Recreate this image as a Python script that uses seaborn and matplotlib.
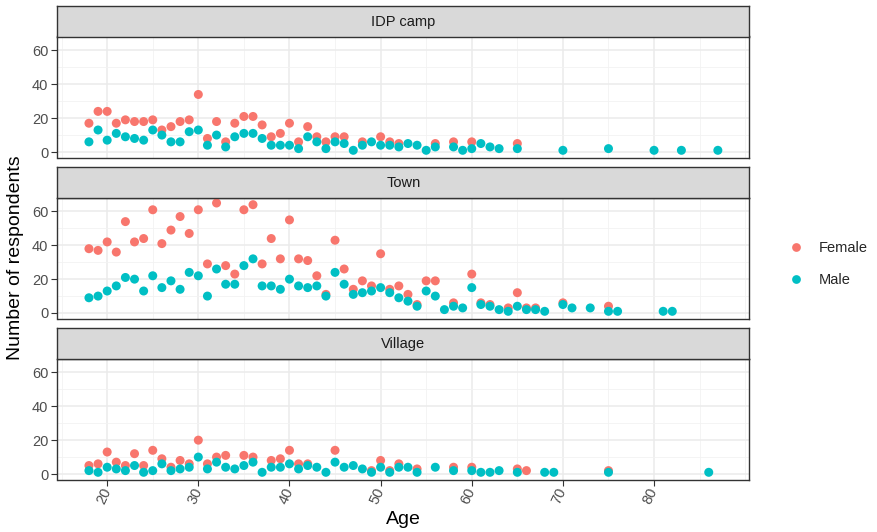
import numpy as np
import pandas as pd
import matplotlib
matplotlib.use("Agg")
import matplotlib.pyplot as plt
from matplotlib.lines import Line2D
import seaborn as sns

sns.set_theme(style="white")
plt.rcParams["font.family"] = ["Liberation Sans", "DejaVu Sans"]

# Respondents by age, sex and place of residence
idp_female_age = [18, 19, 20, 21, 22, 23, 24, 25, 26, 27, 28, 29, 30, 31, 32, 33, 34, 35, 36, 37,
                  38, 39, 40, 41, 42, 43, 44, 45, 46, 48, 50, 51, 52, 56, 58, 60, 65]
idp_female_n = [17, 24, 24, 17, 19, 18, 18, 19, 13, 15, 18, 19, 34, 8, 18, 6, 17, 21, 21, 16,
                9, 11, 17, 6, 15, 9, 6, 9, 9, 6, 9, 6, 5, 5, 6, 6, 5]
idp_male_age = [18, 19, 20, 21, 22, 23, 24, 25, 26, 27, 28, 29, 30, 31, 32, 33, 34, 35, 36, 37,
                38, 39, 40, 41, 42, 43, 44, 45, 46, 47, 48, 49, 50, 51, 52, 53, 54, 55, 56, 58,
                59, 60, 61, 62, 63, 65, 70, 75, 80, 83, 87]
idp_male_n = [6, 13, 7, 11, 9, 8, 7, 13, 10, 6, 6, 12, 13, 4, 10, 3, 9, 11, 11, 8,
              4, 4, 4, 2, 9, 6, 2, 6, 5, 1, 4, 6, 4, 4, 3, 5, 4, 1, 3, 3,
              1, 2, 5, 3, 2, 2, 1, 2, 1, 1, 1]

town_female_age = [18, 19, 20, 21, 22, 23, 24, 25, 26, 27, 28, 29, 30, 31, 32, 33, 34, 35, 36, 37,
                   38, 39, 40, 41, 42, 43, 44, 45, 46, 47, 48, 49, 50, 51, 52, 53, 54, 55, 56, 58,
                   60, 61, 62, 64, 65, 66, 67, 70, 75]
town_female_n = [38, 37, 42, 36, 54, 42, 44, 61, 41, 49, 57, 47, 61, 29, 65, 28, 23, 61, 64, 29,
                 44, 32, 55, 32, 31, 22, 11, 43, 26, 14, 19, 16, 35, 14, 16, 11, 5, 19, 19, 6,
                 23, 6, 5, 3, 12, 3, 3, 6, 4]
town_male_age = [18, 19, 20, 21, 22, 23, 24, 25, 26, 27, 28, 29, 30, 31, 32, 33, 34, 35, 36, 37,
                 38, 39, 40, 41, 42, 43, 44, 45, 46, 47, 48, 49, 50, 51, 52, 53, 54, 55, 56, 57,
                 58, 59, 60, 61, 62, 63, 64, 65, 66, 67, 68, 70, 71, 73, 75, 76, 81, 82]
town_male_n = [9, 10, 13, 16, 21, 20, 13, 22, 15, 19, 14, 24, 22, 10, 26, 17, 17, 28, 32, 16,
               16, 14, 20, 16, 15, 16, 10, 24, 17, 11, 12, 13, 15, 12, 9, 7, 4, 13, 10, 2,
               4, 3, 15, 5, 4, 2, 1, 4, 2, 2, 1, 5, 3, 3, 1, 1, 1, 1]

village_female_age = [18, 19, 20, 21, 22, 23, 24, 25, 26, 27, 28, 29, 30, 31, 32, 33, 35, 36, 38, 39,
                      40, 41, 42, 45, 49, 50, 51, 52, 54, 58, 60, 65, 66, 75]
village_female_n = [5, 6, 13, 7, 5, 12, 5, 14, 9, 4, 8, 6, 20, 6, 10, 11, 11, 10, 8, 9,
                    14, 6, 6, 14, 2, 8, 2, 6, 3, 4, 4, 3, 2, 2]
village_male_age = [18, 19, 20, 21, 22, 23, 24, 25, 26, 27, 28, 29, 30, 31, 32, 33, 34, 35, 36, 37,
                    38, 39, 40, 41, 42, 43, 44, 45, 46, 47, 48, 49, 50, 51, 52, 53, 54, 56, 58, 60,
                    61, 62, 63, 65, 68, 69, 75, 86]
village_male_n = [2, 1, 4, 3, 2, 5, 1, 2, 6, 2, 3, 4, 10, 3, 7, 4, 3, 5, 7, 1,
                  4, 4, 6, 3, 5, 4, 1, 7, 4, 5, 3, 1, 4, 1, 4, 4, 1, 4, 2, 2,
                  1, 1, 2, 1, 1, 1, 1, 1]

locations = ["IDP camp", "Town", "Village"]
sexes = ["Female", "Male"]
series = {
    ("IDP camp", "Female"): (idp_female_age, idp_female_n),
    ("IDP camp", "Male"): (idp_male_age, idp_male_n),
    ("Town", "Female"): (town_female_age, town_female_n),
    ("Town", "Male"): (town_male_age, town_male_n),
    ("Village", "Female"): (village_female_age, village_female_n),
    ("Village", "Male"): (village_male_age, village_male_n),
}

frames = []
for (loc, sex), (ages, counts) in series.items():
    frames.append(pd.DataFrame({"Location": loc, "Sex": sex, "Age": ages, "Count": counts}))
df = pd.concat(frames, ignore_index=True)

palette = {"Female": "#F8766D", "Male": "#00BFC4"}

W, H = 878, 532
fig = plt.figure(figsize=(W / 100, H / 100), dpi=100)

left_px, right_px = 57.5, 749.3
strip_h, panel_h, gap = 30.5, 121.0, 9.5
top_px = 6.0

xmin, xmax = 18, 87
xpad = (xmax - xmin) * 0.05
ymin, ymax = 0, 65
ypad = (ymax - ymin) * 0.05

dark = "#333333"
for i, loc in enumerate(locations):
    s_top = top_px + i * (strip_h + panel_h + gap)
    p_top = s_top + strip_h
    p_bot = p_top + panel_h

    ax = fig.add_axes([left_px / W, 1 - p_bot / H, (right_px - left_px) / W, panel_h / H])
    sub = df[df["Location"] == loc]
    sns.scatterplot(data=sub, x="Age", y="Count", hue="Sex", hue_order=sexes,
                    palette=palette, s=42, linewidth=0, alpha=1, legend=False, ax=ax, zorder=3)
    ax.set_xlim(xmin - xpad, xmax + xpad)
    ax.set_ylim(ymin - ypad, ymax + ypad)
    ax.set_xticks(range(20, 81, 10))
    ax.set_xticks([15, 25, 35, 45, 55, 65, 75, 85, 90], minor=True)
    ax.set_yticks([0, 20, 40, 60])
    ax.set_yticks([10, 30, 50], minor=True)
    ax.grid(which="major", color="#EBEBEB", linewidth=1.1, zorder=0)
    ax.grid(which="minor", color="#F2F2F2", linewidth=0.6, zorder=0)
    ax.set_axisbelow(True)
    ax.set_xlabel("")
    ax.set_ylabel("")
    for sp in ax.spines.values():
        sp.set_color(dark)
        sp.set_linewidth(1.0)
    ax.tick_params(axis="y", which="major", length=4, width=0.8, color=dark,
                   labelsize=10.5, labelcolor="#4D4D4D", pad=2.5, left=True)
    ax.tick_params(which="minor", length=0)
    if i == len(locations) - 1:
        ax.tick_params(axis="x", which="major", length=4, width=0.8, color=dark,
                       labelsize=10.5, labelcolor="#4D4D4D", pad=2.5, bottom=True)
        for lab in ax.get_xticklabels():
            lab.set_rotation(65)
            lab.set_ha("right")
            lab.set_va("center")
            lab.set_rotation_mode("anchor")
    else:
        ax.tick_params(axis="x", which="major", length=0, labelbottom=False)

    sax = fig.add_axes([left_px / W, 1 - p_top / H, (right_px - left_px) / W, strip_h / H])
    sax.set_facecolor("#D9D9D9")
    sax.set_xticks([])
    sax.set_yticks([])
    for sp in sax.spines.values():
        sp.set_color(dark)
        sp.set_linewidth(1.0)
    sax.text(0.5, 0.47, loc, ha="center", va="center", fontsize=10.5,
             color="#1A1A1A", transform=sax.transAxes)

fig.text(403 / W, 1 - 519 / H, "Age", ha="center", va="center", fontsize=14, color="black")
fig.text(16 / W, 1 - 258 / H, "Number of respondents", ha="center", va="center",
         rotation=90, fontsize=14, color="black")

handles = [Line2D([0], [0], marker="o", linestyle="", markersize=6.3,
                  markerfacecolor=palette[s], markeredgewidth=0) for s in sexes]
fig.legend(handles, sexes, loc="center left", bbox_to_anchor=(781 / W, 1 - 264 / H),
           frameon=False, fontsize=10.5, labelspacing=1.2, handletextpad=1.0,
           handlelength=1.2, borderaxespad=0)

fig.savefig("out.png", dpi=100)
